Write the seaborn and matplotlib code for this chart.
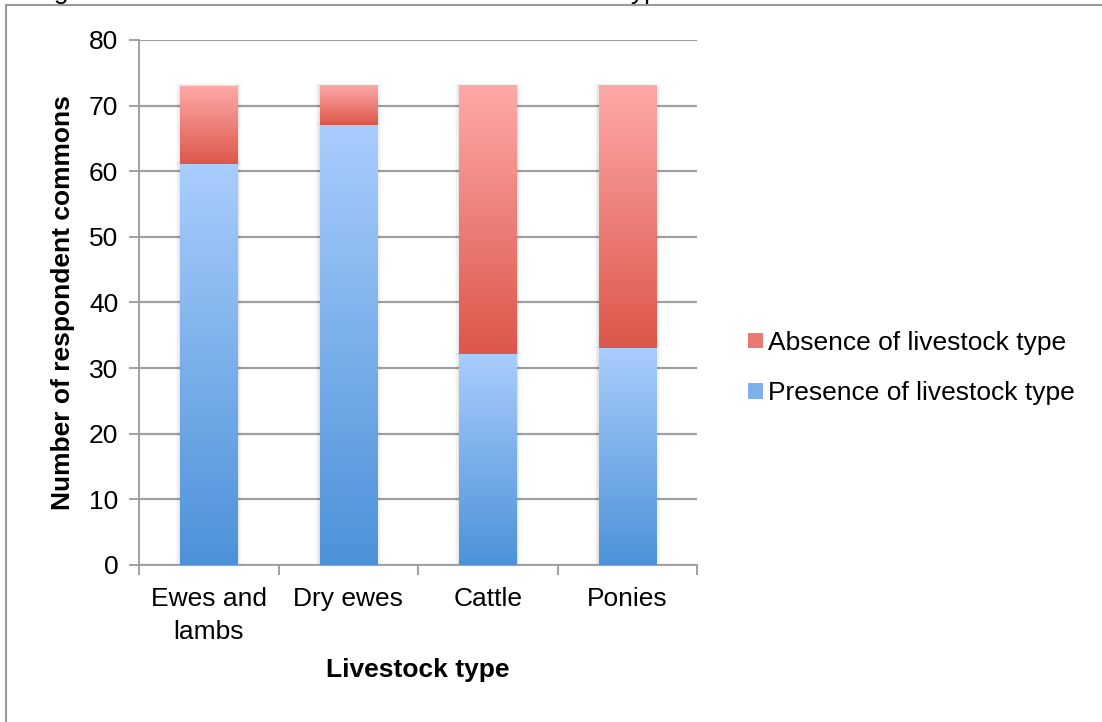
import numpy as np
import pandas as pd
import seaborn as sns
import matplotlib.pyplot as plt
from matplotlib.colors import LinearSegmentedColormap
from matplotlib.patches import Patch, Rectangle

# Chart values
categories = ["Ewes and\nlambs", "Dry ewes", "Cattle", "Ponies"]
presence = [61, 67, 32, 33]
absence = [12, 6, 41, 40]
series_labels = ["Absence of livestock type", "Presence of livestock type"]
y_ticks = [0, 10, 20, 30, 40, 50, 60, 70, 80]

df = pd.DataFrame({"Livestock type": categories,
                   "Presence": presence,
                   "Absence": absence})
df["Total"] = df["Presence"] + df["Absence"]

sns.set_style("white")
plt.rcParams["font.family"] = ["Liberation Sans", "DejaVu Sans"]
plt.rcParams["text.color"] = "black"
plt.rcParams["axes.labelcolor"] = "black"
plt.rcParams["xtick.labelcolor"] = "black"
plt.rcParams["ytick.labelcolor"] = "black"

fig = plt.figure(figsize=(11.02, 7.22), dpi=100)
ax = fig.add_axes([139 / 1102, 1 - 565 / 722, 558 / 1102, 525 / 722])

# stacked bars: total first (absence on top), presence over it
sns.barplot(data=df, x="Livestock type", y="Total", color="#e46a60",
            width=0.41, ax=ax, zorder=3)
n_total = len(ax.patches)
sns.barplot(data=df, x="Livestock type", y="Presence", color="#7fb0ec",
            width=0.41, ax=ax, zorder=4)

blue_cmap = LinearSegmentedColormap.from_list("b", ["#4c92d8", "#a9cdfd"])
red_cmap = LinearSegmentedColormap.from_list("r", ["#dc5649", "#fea9a8"])
grad = np.linspace(0, 1, 256).reshape(-1, 1)

# replace flat fills with vertical gradients, each segment on its own
for i, p in enumerate(ax.patches):
    x, w = p.get_x(), p.get_width()
    h = p.get_height()
    if i < n_total:
        y0 = df["Presence"].iloc[i]
        cmap = red_cmap
        z = 3.5
    else:
        y0 = 0
        cmap = blue_cmap
        z = 4.5
    y1 = p.get_y() + h
    # soft shadow around each bar
    for k, a in enumerate([0.05, 0.035, 0.02]):
        pad = 0.01 * (k + 1)
        ax.add_patch(Rectangle((x - pad, y0), w + 2 * pad, y1 - y0 + 0.12 * (k + 1),
                               facecolor="black", alpha=a, lw=0, zorder=2.5))
    ax.imshow(grad, cmap=cmap, origin="lower", aspect="auto",
              extent=[x, x + w, y0, y1], zorder=z)
    p.set_visible(False)

ax.set_xlim(-0.5, 3.5)
ax.set_ylim(0, 80)
ax.set_yticks(y_ticks)
ax.yaxis.grid(True, color="#a0a0a0", linewidth=1.6, zorder=1)
ax.set_axisbelow(True)

for s in ["top", "right"]:
    ax.spines[s].set_visible(False)
for s in ["left", "bottom"]:
    ax.spines[s].set_color("#a0a0a0")
    ax.spines[s].set_linewidth(1.4)

# ticks: y at values, x at category boundaries
ax.set_xticks([-0.5, 0.5, 1.5, 2.5, 3.5])
ax.set_xticklabels([])
ax.set_xticks(range(len(categories)), minor=True)
ax.set_xticklabels(categories, minor=True, fontsize=19, linespacing=1.45)
ax.tick_params(axis="x", which="major", length=7, color="#a0a0a0", width=1.4, direction="out", bottom=True)
ax.tick_params(axis="x", which="minor", length=0, pad=16)
ax.tick_params(axis="y", length=7, color="#a0a0a0", width=1.4, direction="out", left=True,
               labelsize=19, pad=8)

ax.set_xlabel("Livestock type", fontsize=19, fontweight="bold", labelpad=10)
ax.set_ylabel("Number of respondent commons", fontsize=19, fontweight="bold", labelpad=10)

handles = [Patch(facecolor="#e97a72", edgecolor="none"),
           Patch(facecolor="#7fb0ec", edgecolor="none")]
fig.legend(handles, series_labels, loc="center left", bbox_to_anchor=(748 / 1102, 1 - 368 / 722),
           frameon=False, fontsize=19, handlelength=0.55, handleheight=0.55,
           handletextpad=0.2, labelspacing=1.0, borderaxespad=0, borderpad=0)

# chart frame and clipped caption above it
fig.add_artist(Rectangle((6 / 1102, -0.05), 1.2, 1 - 5 / 722 + 0.05, transform=fig.transFigure,
                         fill=False, edgecolor="#9a9a9a", linewidth=1.5))
fig.text(32 / 1102, 1 + 1 / 722, "Figure 3: Number of commons with each livestock type",
         fontsize=19, va="baseline", ha="left")

fig.savefig("out.png", dpi=100)
